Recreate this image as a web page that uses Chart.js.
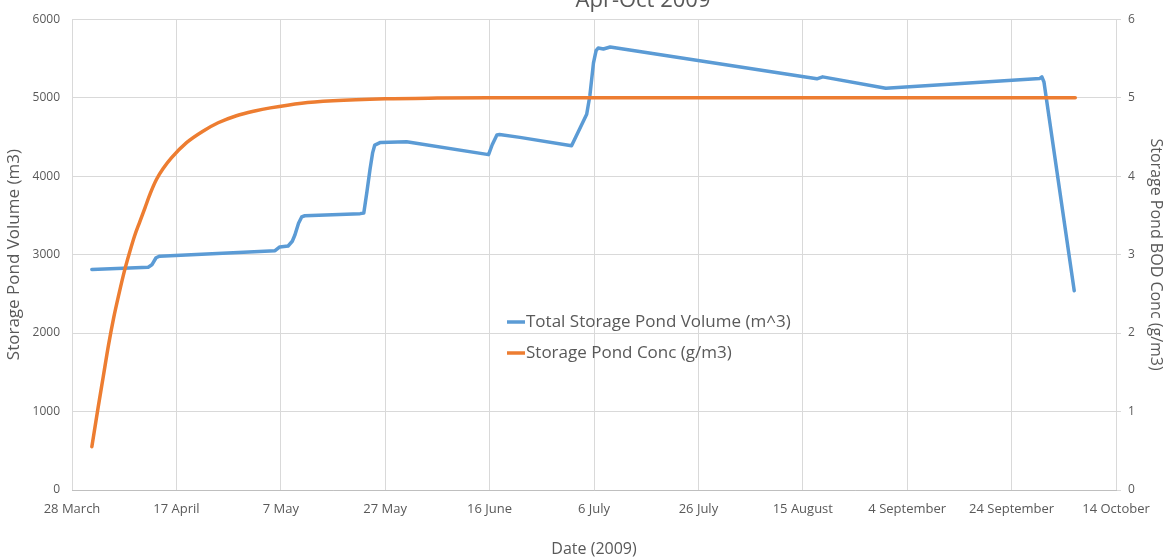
<!DOCTYPE html>
<html>
<head>
<meta charset="utf-8">
<script src="https://cdn.jsdelivr.net/npm/chart.js@4.4.0/dist/chart.umd.min.js"></script>
<style>
  html, body { margin: 0; padding: 0; background: #fff; }
  #wrap { width: 1165px; height: 559px; position: relative; }
</style>
</head>
<body>
<div id="wrap"><canvas id="chart" width="1165" height="559"></canvas></div>
<script>
// Storage pond, Apr-Oct 2009 (x = days after 28 March)
const dateLabels = ['28 March', '17 April', '7 May', '27 May', '16 June', '6 July',
  '26 July', '15 August', '4 September', '24 September', '14 October'];

// Total Storage Pond Volume (m^3)
const volDays = [3.8, 14.6, 15.3, 16.1, 16.8, 38.9, 39.8, 41.4, 42.2, 42.7, 43.4, 44, 44.6, 55.2, 55.9, 56.5, 57.1, 57.6, 58, 59.1,
  64.1, 79.8, 80.5, 81.4, 81.9, 85.8, 95.7, 98.6, 99.2, 99.9, 100.4, 100.8, 101.8, 103.1, 142.7, 143.8, 155.9,
  185.4, 185.8, 186.2, 192];
const volValues = [2810, 2840, 2870, 2960, 2980, 3050, 3097, 3110, 3170, 3250, 3400, 3480, 3495, 3522, 3530, 3800, 4092, 4300, 4396, 4430,
  4439, 4274, 4400, 4525, 4530, 4494, 4388, 4789, 5021, 5443, 5600, 5633, 5620, 5645, 5240, 5265, 5120,
  5245, 5265, 5200, 2540];

// Storage Pond Conc (g/m3)
const concDays = [3.8, 5, 6, 7, 8, 9, 10, 11, 12, 13, 14, 15, 16.2, 17.5, 19, 22, 25, 28, 31.5,
  35, 38, 44, 50, 60, 70, 80, 192.2];
const concValues = [0.55, 1.05, 1.45, 1.85, 2.2, 2.5, 2.78, 3.02, 3.24, 3.42, 3.6, 3.78, 3.96, 4.1, 4.23, 4.43, 4.57, 4.68, 4.77,
  4.83, 4.87, 4.93, 4.96, 4.985, 4.995, 5.0, 5.0];

const textColor = '#595959';
const gridColor = '#d9d9d9';
const fontFamily = "'Open Sans', 'Noto Sans', sans-serif";

// titulo cortado no topo + legenda dentro do grafico
const extrasPlugin = {
  id: 'extras',
  afterDraw(chart) {
    const ctx = chart.ctx;
    ctx.save();
    ctx.fillStyle = textColor;
    ctx.font = '22px ' + fontFamily;
    ctx.textAlign = 'center';
    ctx.textBaseline = 'alphabetic';
    ctx.fillText('Apr-Oct 2009', 643, 7);

    ctx.font = '17px ' + fontFamily;
    ctx.textAlign = 'left';
    ctx.textBaseline = 'middle';
    chart.data.datasets.forEach(function(ds, i) {
      const y = 322 + i * 31;
      ctx.strokeStyle = ds.borderColor;
      ctx.lineWidth = 3.5;
      ctx.beginPath();
      ctx.moveTo(507, y);
      ctx.lineTo(525, y);
      ctx.stroke();
      ctx.fillText(ds.label, 526, y);
    });
    ctx.restore();
  }
};

new Chart(document.getElementById('chart').getContext('2d'), {
  type: 'line',
  data: {
    datasets: [{
      label: 'Total Storage Pond Volume (m^3)',
      data: volDays.map((d, i) => ({ x: d, y: volValues[i] })),
      borderColor: '#5b9bd5',
      borderWidth: 3.5,
      borderJoinStyle: 'round',
      borderCapStyle: 'round',
      pointRadius: 0,
      tension: 0,
      yAxisID: 'y',
      order: 2
    }, {
      label: 'Storage Pond Conc (g/m3)',
      data: concDays.map((d, i) => ({ x: d, y: concValues[i] })),
      borderColor: '#ed7d31',
      borderWidth: 3.5,
      borderJoinStyle: 'round',
      borderCapStyle: 'round',
      pointRadius: 0,
      cubicInterpolationMode: 'monotone',
      yAxisID: 'y2',
      order: 1
    }]
  },
  options: {
    responsive: false,
    animation: false,
    layout: { padding: { top: 16, left: 0, right: 0, bottom: 0 } },
    plugins: {
      legend: { display: false },
      tooltip: { enabled: false }
    },
    scales: {
      x: {
        type: 'linear',
        min: 0,
        max: 200,
        afterFit: (s) => { s.height = 69; },
        ticks: {
          stepSize: 20,
          autoSkip: false,
          maxRotation: 0,
          padding: 11,
          color: textColor,
          font: { family: fontFamily, size: 13 },
          callback: (v) => dateLabels[Math.round(v / 20)]
        },
        grid: { color: gridColor, drawTicks: false },
        border: { display: true, color: '#bfbfbf' },
        title: {
          display: true,
          text: 'Date (2009)',
          color: textColor,
          font: { family: fontFamily, size: 16 },
          padding: { top: 0, bottom: 0 }
        }
      },
      y: {
        position: 'left',
        min: 0,
        max: 6000,
        afterFit: (s) => { s.width = 72; },
        ticks: {
          stepSize: 1000,
          padding: 12,
          color: textColor,
          font: { family: fontFamily, size: 12 },
          callback: (v) => String(v)
        },
        grid: { color: gridColor, drawTicks: false },
        border: { display: false },
        title: {
          display: true,
          text: 'Storage Pond Volume (m3)',
          color: textColor,
          font: { family: fontFamily, size: 17 },
          padding: { top: 4, bottom: 0 }
        }
      },
      y2: {
        position: 'right',
        min: 0,
        max: 6,
        afterFit: (s) => { s.width = 49; },
        ticks: {
          stepSize: 1,
          padding: 7,
          color: textColor,
          font: { family: fontFamily, size: 12 }
        },
        grid: { drawOnChartArea: false, drawTicks: true, tickLength: 5, color: gridColor },
        border: { display: false },
        title: {
          display: true,
          text: 'Storage Pond BOD Conc (g/m3)',
          color: textColor,
          font: { family: fontFamily, size: 16 },
          padding: { top: 0, bottom: 4 }
        }
      }
    }
  },
  plugins: [extrasPlugin]
});
</script>
</body>
</html>
